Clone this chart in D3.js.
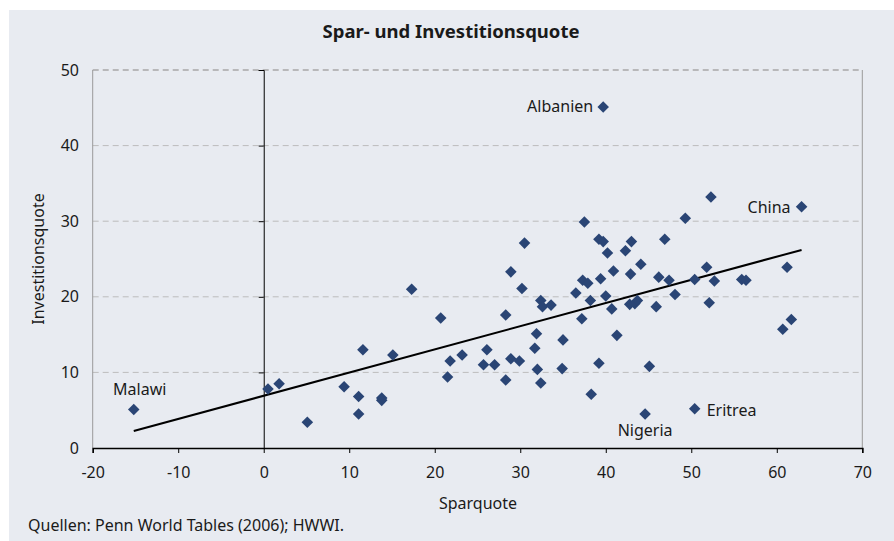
<!DOCTYPE html>
<html>
<head>
<meta charset="utf-8">
<script src="https://cdn.jsdelivr.net/npm/d3@7"></script>
<style>
  body { margin: 0; background: #fff; }
  text { font-family: "Noto Sans", sans-serif; fill: #1a1a1a; }
</style>
</head>
<body>
<div id="chart"></div>
<script>
var w = 894;
var h = 541;

// Sparquote (x) und Investitionsquote (y)
var sparquote = [-15.2, 0.5, 1.8, 5.1, 9.4, 11.1, 11.1, 11.6, 13.8, 13.8, 15.1, 17.3, 20.7, 21.5, 21.8,
  23.2, 25.7, 26.1, 27.0, 28.3, 28.3, 28.9, 28.9, 29.9, 30.2, 30.5, 31.7, 31.9, 32.0, 32.4, 32.4, 32.6,
  33.6, 35.0, 34.9, 36.5, 37.2, 37.3, 37.9, 37.5, 38.2, 38.3, 39.2, 39.7, 40.2, 39.4, 40.0, 40.7, 40.9,
  41.3, 39.2, 42.3, 43.0, 42.9, 44.1, 42.8, 43.4, 43.7, 45.1, 44.6, 45.9, 46.2, 46.9, 47.4, 48.1, 49.3,
  50.4, 50.4, 51.8, 52.1, 52.3, 52.7, 55.9, 56.4, 61.2, 60.7, 61.7, 62.9, 39.7];
var investitionsquote = [5.1, 7.8, 8.5, 3.4, 8.1, 6.8, 4.5, 13.0, 6.6, 6.3, 12.3, 21.0, 17.2, 9.4, 11.5,
  12.3, 11.0, 13.0, 11.0, 9.0, 17.6, 23.3, 11.8, 11.5, 21.1, 27.1, 13.2, 15.1, 10.4, 8.6, 19.5, 18.7,
  18.9, 14.3, 10.5, 20.5, 17.1, 22.2, 21.8, 29.9, 19.5, 7.1, 27.6, 27.3, 25.8, 22.4, 20.1, 18.4, 23.4,
  14.9, 11.2, 26.1, 27.3, 23.0, 24.3, 19.0, 19.1, 19.5, 10.8, 4.5, 18.7, 22.6, 27.6, 22.2, 20.3, 30.4,
  22.3, 5.2, 23.9, 19.2, 33.2, 22.1, 22.3, 22.2, 23.9, 15.7, 17.0, 31.9, 45.1];

// beschriftete Länder
var labelNames = ["Albanien", "China", "Malawi", "Nigeria", "Eritrea"];
var labelX = [39.7, 62.9, -15.2, 44.6, 50.4];
var labelY = [45.1, 31.9, 5.1, 4.5, 5.2];

// Trendlinie (Endpunkte)
var trendX = [-15.2, 62.9];
var trendY = [2.25, 26.2];

var xTicks = [-20, -10, 0, 10, 20, 30, 40, 50, 60, 70];
var yTicks = [0, 10, 20, 30, 40, 50];

var svg = d3.select("#chart")
  .append("svg")
  .attr("width", w)
  .attr("height", h);

svg.append("rect")
  .attr("x", 9).attr("y", 10)
  .attr("width", w - 9).attr("height", h - 10)
  .attr("fill", "#e8ebf1");

var x = d3.scaleLinear().domain([-20, 70]).range([92.7, 862.3]);
var y = d3.scaleLinear().domain([0, 50]).range([448, 70]);

// gridlines
svg.selectAll("line.grid")
  .data(yTicks.filter(function(d) { return d > 0; }))
  .enter()
  .append("line")
  .attr("class", "grid")
  .attr("x1", x(-20)).attr("x2", x(70))
  .attr("y1", function(d) { return y(d); })
  .attr("y2", function(d) { return y(d); })
  .attr("stroke", function(d) { return d == 50 ? "#a8a8a8" : "#bcbcbc"; })
  .attr("stroke-width", function(d) { return d == 50 ? 1.5 : 1; })
  .attr("stroke-dasharray", "6,4");

// left / right frame
svg.append("line")
  .attr("x1", x(-20)).attr("x2", x(-20)).attr("y1", y(50)).attr("y2", y(0))
  .attr("stroke", "#9a9a9a");
svg.append("line")
  .attr("x1", x(70)).attr("x2", x(70)).attr("y1", y(50)).attr("y2", y(0))
  .attr("stroke", "#9a9a9a");

// x axis
var xAxis = svg.append("g")
  .attr("transform", "translate(0," + y(0) + ")")
  .call(d3.axisBottom(x).tickValues(xTicks).tickSize(5).tickPadding(14)
    .tickFormat(function(d) { return String(d); }));
xAxis.select(".domain").attr("stroke", "#000").attr("stroke-width", 1.5);
xAxis.selectAll(".tick line").attr("stroke", "#000");
xAxis.selectAll("text").style("font-size", "16px").attr("fill", "#1a1a1a");

// y axis at x = 0
var yAxis = svg.append("g")
  .attr("transform", "translate(" + x(0) + ",0)")
  .call(d3.axisLeft(y).tickValues(yTicks).tickSize(5).tickFormat(""));
yAxis.select(".domain").attr("stroke", "#000").attr("stroke-width", 1);
yAxis.selectAll(".tick line").attr("stroke", "#000");

// y tick labels on the left
svg.selectAll("text.ylab")
  .data(yTicks)
  .enter()
  .append("text")
  .attr("class", "ylab")
  .attr("x", 79)
  .attr("y", function(d) { return y(d); })
  .attr("dy", "0.35em")
  .attr("text-anchor", "end")
  .style("font-size", "16px")
  .text(function(d) { return d; });

// trend line
svg.append("line")
  .attr("x1", x(trendX[0])).attr("y1", y(trendY[0]))
  .attr("x2", x(trendX[1])).attr("y2", y(trendY[1]))
  .attr("stroke", "#000")
  .attr("stroke-width", 2);

// points
var pts = sparquote.map(function(d, i) { return [d, investitionsquote[i]]; });
svg.selectAll("path.pt")
  .data(pts)
  .enter()
  .append("path")
  .attr("class", "pt")
  .attr("d", d3.symbol().type(d3.symbolDiamond2).size(85))
  .attr("transform", function(d) {
    return "translate(" + x(d[0]) + "," + y(d[1]) + ")";
  })
  .attr("fill", "#2a4575");

// country labels
var labPos = {
  "Albanien": { dx: -10, dy: 5, anchor: "end" },
  "China": { dx: -11, dy: 6, anchor: "end" },
  "Malawi": { dx: 6, dy: -14, anchor: "middle" },
  "Nigeria": { dx: 0, dy: 22, anchor: "middle" },
  "Eritrea": { dx: 12, dy: 7, anchor: "start" }
};
svg.selectAll("text.country")
  .data(labelNames)
  .enter()
  .append("text")
  .attr("class", "country")
  .attr("x", function(d, i) { return x(labelX[i]) + labPos[d].dx; })
  .attr("y", function(d, i) { return y(labelY[i]) + labPos[d].dy; })
  .attr("text-anchor", function(d) { return labPos[d].anchor; })
  .style("font-size", "16px")
  .text(function(d) { return d; });

// titles
svg.append("text")
  .attr("x", 451).attr("y", 38)
  .attr("text-anchor", "middle")
  .style("font-size", "18.5px")
  .style("font-weight", "bold")
  .text("Spar- und Investitionsquote");

svg.append("text")
  .attr("x", 478).attr("y", 509)
  .attr("text-anchor", "middle")
  .style("font-size", "16px")
  .text("Sparquote");

svg.append("text")
  .attr("transform", "translate(44,259) rotate(-90)")
  .attr("text-anchor", "middle")
  .style("font-size", "16px")
  .text("Investitionsquote");

svg.append("text")
  .attr("x", 28).attr("y", 531)
  .style("font-size", "16px")
  .text("Quellen: Penn World Tables (2006); HWWI.");
</script>
</body>
</html>
